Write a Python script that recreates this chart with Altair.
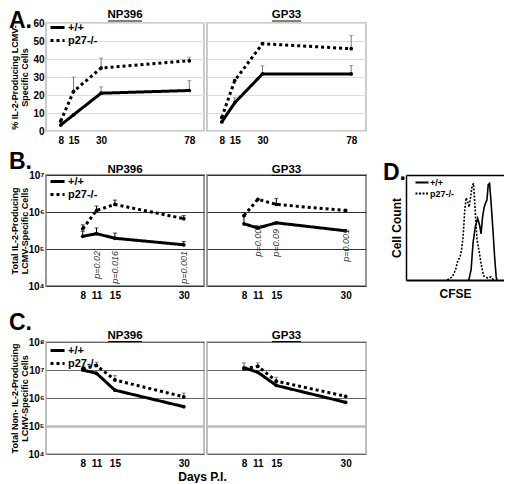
import altair as alt
import pandas as pd

FONT = "Liberation Sans"
WT, KO = "+/+", "p27-/-"

# ---------------- Panel A : % IL-2 producing ----------------
days_A = [8, 15, 30, 78]
A_np_wt = [3.3, 9.0, 21.0, 22.5]
A_np_ko = [5.5, 22.0, 35.0, 39.0]
A_np_wt_hi = [None, None, 24.5, 28.0]
A_np_ko_hi = [None, 30.0, 40.5, 41.0]
A_gp_wt = [5.0, 15.7, 31.7, 31.7]
A_gp_ko = [7.5, 28.0, 48.5, 45.7]
A_gp_wt_hi = [None, 18.5, 36.2, 36.4]
A_gp_ko_hi = [None, None, None, 53.0]
A_yticks = [0, 10, 20, 30, 40, 50, 60]

# ---------------- Panel B : total IL-2 producing ----------------
days_BC = [8, 11, 15, 30]
B_np_wt = [2.2e5, 2.6e5, 1.95e5, 1.3e5]
B_np_ko = [3.5e5, 1.1e6, 1.6e6, 6.6e5]
B_np_wt_hi = [3.0e5, 3.7e5, 2.7e5, 1.6e5]
B_np_ko_hi = [4.5e5, 1.45e6, 2.1e6, 8.0e5]
B_gp_wt = [4.8e5, 3.7e5, 5.1e5, 3.1e5]
B_gp_ko = [8.0e5, 2.2e6, 1.6e6, 1.1e6]
B_gp_wt_hi = [7.5e5, None, None, None]
B_gp_ko_hi = [None, None, 2.3e6, None]
B_np_p_text = ["p=0.02", "p=0.016", "p=0.001"]
B_np_p_day = [11, 15, 30]
B_np_p_y = [8.8e4, 8.8e4, 8.8e4]
B_gp_p_text = ["p=0.001", "p=0.09", "p=0.001"]
B_gp_p_day = [11, 15, 30]
B_gp_p_y = [4.8e5, 3.5e5, 3.5e5]
B_yticks = [1e4, 1e5, 1e6, 1e7]

# ---------------- Panel C : total non-IL-2 producing ----------------
C_np_wt = [1.0e7, 7.6e6, 1.9e6, 4.9e5]
C_np_ko = [1.1e7, 1.45e7, 4.4e6, 1.1e6]
C_np_wt_hi = [None, None, None, None]
C_np_ko_hi = [1.3e7, 1.9e7, 6.3e6, 1.5e6]
C_gp_wt = [1.2e7, 8.3e6, 2.8e6, 7.0e5]
C_gp_ko = [1.1e7, 1.35e7, 4.0e6, 1.15e6]
C_gp_wt_hi = [1.8e7, None, None, None]
C_gp_ko_hi = [None, 1.8e7, 5.5e6, None]
C_yticks = [1e4, 1e5, 1e6, 1e7, 1e8]

# ---------------- Panel D : CFSE histogram ----------------
D_wt_cfse = [59.4, 61.6, 63.4, 65.6, 67.8, 69.7, 71.0, 72.5, 74.0, 75.3, 76.6, 77.8, 79.0, 80.3, 82.2, 83.8, 85.3, 86.0]
D_wt_count = [0, 10, 36, 52, 60, 53, 45, 62, 71, 75, 78, 93, 94, 78, 49, 23, 3, 0]
D_ko_cfse = [39.0, 43.8, 46.9, 49.0, 51.0, 52.5, 54.0, 55.6, 56.9, 58.4, 59.7, 61.0, 62.5, 63.8, 64.7, 66.0, 67.2, 69.0, 71.0, 73.4, 77.2, 80.3, 82.8]
D_ko_count = [0, 3, 10, 19, 22, 29, 42, 68, 80, 76, 71, 80, 91, 94, 81, 58, 39, 29, 16, 4, 2, 3, 0]

SUP = "['⁰','¹','²','³','⁴','⁵','⁶','⁷','⁸','⁹']"
LOG_LABEL = "'10' + " + SUP + "[round(log(datum.value)/LN10)]"


def long_df(days, wt, ko):
    return pd.DataFrame({"day": list(days) * 2,
                         "value": list(wt) + list(ko),
                         "g": [WT] * len(days) + [KO] * len(days)})


def err_df(days, wt, wt_hi, ko, ko_hi):
    rows = []
    for d, v, h in list(zip(days, wt, wt_hi)) + list(zip(days, ko, ko_hi)):
        if h is not None:
            rows.append({"day": d, "value": v, "hi": h})
    return pd.DataFrame(rows, columns=["day", "value", "hi"])


def legend(ly):
    return alt.Legend(orient="none", legendX=-1, legendY=ly, title=None,
                      symbolType="M0,0H6", symbolSize=22, symbolStrokeWidth=3,
                      symbolStrokeColor="black", labelFontSize=11,
                      labelFontWeight="bold", rowPadding=0, padding=0,
                      labelOffset=12, labelColor="black")


def text_layer(txt, x, y, size, **kw):
    return alt.Chart(pd.DataFrame({"t": [txt]})).mark_text(
        fontSize=size, fontWeight="bold", color="black", **kw
    ).encode(x=alt.value(x), y=alt.value(y), text="t:N")


def panel(days, wt, ko, wt_hi, ko_hi, *, xdom, xvals, ydom, yvals, ylog,
          width, height, title, title_y, underline_y=None, ytitle=None, leg_y=None,
          letter=None, letter_y=0, grid_color="#dddddd", grid_width=1,
          frame_color="#bbbbbb", frame_width=1.5, err_color="#777777",
          xtitle=None, ptext=None):
    sx = alt.Scale(domain=xdom, nice=False, zero=False)
    if ylog:
        sy = alt.Scale(type="log", domain=ydom, nice=False)
    else:
        sy = alt.Scale(domain=ydom, nice=False, zero=False)
    ykw = dict(values=yvals, grid=True, gridColor=grid_color, gridWidth=grid_width,
               domain=False, ticks=False, labels=ytitle is not None,
               labelFontSize=10, labelFontWeight="bold", labelPadding=2,
               labelOverlap=False, labelBound=False, labelLineHeight=10,
               labelColor="black", minExtent=15, maxExtent=15,
               title=ytitle, titlePadding=2, titleFontSize=9, titleFontWeight="bold",
               titleLineHeight=10, titleColor="black")
    if ylog:
        ykw["labelExpr"] = LOG_LABEL
    yaxis = alt.Axis(**ykw)
    xkw = dict(values=xvals, grid=False, domain=False, ticks=False,
               labelFontSize=10, labelFontWeight="bold", labelPadding=4,
               labelOverlap=False, labelFlush=False, labelColor="black",
               title=xtitle)
    if xtitle is not None:
        xkw.update(titleX=156, titleY=17, titleBaseline="top", titleAlign="center",
                   titleFontSize=12, titleFontWeight="bold", titleColor="black")
    xaxis = alt.Axis(**xkw)
    X = alt.X("day:Q", scale=sx, axis=xaxis)

    ldf = long_df(days, wt, ko)
    edf = err_df(days, wt, wt_hi, ko, ko_hi)
    dash_kw = dict(scale=alt.Scale(domain=[WT, KO], range=[[1, 0], [3, 3]]))
    dash_kw["legend"] = legend(leg_y) if leg_y is not None else None

    layers = []
    layers.append(alt.Chart(edf).mark_rule(color=err_color, strokeWidth=1).encode(
        x=X, y=alt.Y("value:Q", scale=sy, axis=yaxis), y2="hi:Q"))
    layers.append(alt.Chart(edf).mark_tick(color=err_color, orient="horizontal",
                                           size=4, thickness=1).encode(
        x=X, y=alt.Y("hi:Q", scale=sy, axis=yaxis)))
    layers.append(alt.Chart(ldf).mark_line(color="black", strokeWidth=3,
                                           strokeCap="butt").encode(
        x=X, y=alt.Y("value:Q", scale=sy, axis=yaxis),
        strokeDash=alt.StrokeDash("g:N", **dash_kw)))
    layers.append(alt.Chart(ldf).mark_circle(color="black", size=14, opacity=1).encode(
        x=X, y=alt.Y("value:Q", scale=sy, axis=yaxis)))
    if ptext is not None:
        pdf = pd.DataFrame({"day": ptext[0], "y": ptext[1], "t": ptext[2]})
        layers.append(alt.Chart(pdf).mark_text(angle=270, align="right",
                                               baseline="middle", fontStyle="italic",
                                               fontSize=9, color="#333333").encode(
            x=X, y=alt.Y("y:Q", scale=sy, axis=yaxis), text="t:N"))
    # panel title (centred over the plot) and optional underline
    layers.append(text_layer(title, width / 2, title_y, 11.5, align="center",
                             baseline="middle"))
    if underline_y is not None:
        half = 17 if title == "NP396" else 14.5
        layers.append(alt.Chart(pd.DataFrame({"t": [title]})).mark_rule(
            color="black", strokeWidth=1).encode(
            x=alt.value(width / 2 - half), x2=alt.value(width / 2 + half),
            y=alt.value(underline_y)))
    if letter is not None:
        layers.append(text_layer(letter, -37, letter_y, 23, align="left",
                                 baseline="top"))
    return alt.layer(*layers).properties(
        width=width, height=height,
        view=alt.ViewBackground(stroke=frame_color, strokeWidth=frame_width))


def spacer(w, h):
    return alt.Chart(pd.DataFrame({"a": [0]})).mark_point(opacity=0).encode(
        x=alt.X("a:Q", axis=None), y=alt.Y("a:Q", axis=None)
    ).properties(width=w, height=h, view=alt.ViewBackground(strokeOpacity=0))


W1, W2 = 158, 159
A_common = dict(xdom=[0, 86], xvals=days_A, ydom=[0, 60], yvals=A_yticks, ylog=False,
                height=108, title_y=-8, underline_y=-2)
A_np = panel(days_A, A_np_wt, A_np_ko, A_np_wt_hi, A_np_ko_hi, width=W1, title="NP396",
             ytitle=["% IL-2-Producing LCMV-", "Specific Cells"], leg_y=-1,
             letter="A.", letter_y=-13, **A_common)
A_gp = panel(days_A, A_gp_wt, A_gp_ko, A_gp_wt_hi, A_gp_ko_hi, width=W2, title="GP33",
             **A_common)

B_common = dict(xdom=[0, 34.4], xvals=days_BC, ydom=[1e4, 1e7], yvals=B_yticks, ylog=True,
                height=111, title_y=-5, grid_color="#333333", grid_width=1,
                frame_color="#999999", frame_width=2, err_color="black")
B_np = panel(days_BC, B_np_wt, B_np_ko, B_np_wt_hi, B_np_ko_hi, width=W1, title="NP396",
             ytitle=["Total  IL-2-Producing", "LCMV-Specific Cells"], leg_y=1,
             letter="B.", letter_y=-24,
             ptext=(B_np_p_day, B_np_p_y, B_np_p_text), **B_common)
B_gp = panel(days_BC, B_gp_wt, B_gp_ko, B_gp_wt_hi, B_gp_ko_hi, width=W2, title="GP33",
             underline_y=0.5, ptext=(B_gp_p_day, B_gp_p_y, B_gp_p_text), **B_common)

C_grid_color = {"condition": {"test": "datum.value === 100000", "value": "#bbbbbb"},
                "value": "#666666"}
C_grid_width = {"condition": {"test": "datum.value === 100000", "value": 2.5},
                "value": 1}
C_common = dict(xdom=[0, 34.4], xvals=days_BC, ydom=[1e4, 1e8], yvals=C_yticks, ylog=True,
                height=112, title_y=-6, underline_y=-0.5, grid_color=C_grid_color,
                grid_width=C_grid_width, frame_color="#aaaaaa", frame_width=1.5,
                err_color="#555555")
C_np = panel(days_BC, C_np_wt, C_np_ko, C_np_wt_hi, C_np_ko_hi, width=W1, title="NP396",
             ytitle=["Total  Non- IL-2-Producing", "LCMV-Specific Cells"], leg_y=3,
             letter="C.", letter_y=-30, xtitle="Days P.I.", **C_common)
C_gp = panel(days_BC, C_gp_wt, C_gp_ko, C_gp_wt_hi, C_gp_ko_hi, width=W2, title="GP33",
             **C_common)

# ---------------- Panel D ----------------
DW, DH = 98, 105
d_df = pd.DataFrame({"cfse": D_wt_cfse + D_ko_cfse,
                     "count": D_wt_count + D_ko_count,
                     "g": [WT] * len(D_wt_cfse) + [KO] * len(D_ko_cfse)})
d_sx = alt.Scale(domain=[0, 92.7], nice=False, zero=False)
d_sy = alt.Scale(domain=[0, 102.2], nice=False)
D_line = alt.Chart(d_df).mark_line(color="black", strokeWidth=1.6).encode(
    x=alt.X("cfse:Q", scale=d_sx,
            axis=alt.Axis(labels=False, ticks=False, domain=True, domainColor="black",
                          domainWidth=2, grid=False, title="CFSE", titleFontSize=12,
                          titleFontWeight="bold", titlePadding=8, titleColor="black")),
    y=alt.Y("count:Q", scale=d_sy,
            axis=alt.Axis(labels=False, ticks=False, domain=True, domainColor="black",
                          domainWidth=1.5, grid=False, title="Cell Count",
                          titleFontSize=12, titleFontWeight="bold", titlePadding=3,
                          titleColor="black")),
    strokeDash=alt.StrokeDash("g:N", scale=alt.Scale(domain=[WT, KO], range=[[1, 0], [2, 1.5]]),
                              legend=alt.Legend(orient="none", legendX=5, legendY=3, title=None,
                                                symbolType="M0,0H6", symbolSize=19,
                                                symbolStrokeWidth=2, symbolStrokeColor="black",
                                                labelFontSize=9, labelFontWeight="bold",
                                                rowPadding=1, padding=0, labelOffset=10,
                                                labelColor="black")),
    order="cfse:Q")
D_top = alt.Chart(d_df).mark_point(opacity=0).encode(
    x=alt.X("cfse:Q", scale=d_sx,
            axis=alt.Axis(orient="top", labels=False, ticks=False, domain=True,
                          domainColor="black", domainWidth=1.5, grid=False, title=None)),
    y=alt.Y("count:Q", scale=d_sy))
D_letter = text_layer("D.", -23, -13, 23, align="left", baseline="top")
D = alt.layer(D_line, D_top, D_letter).resolve_axis(x="independent").properties(
    width=DW, height=DH, view=alt.ViewBackground(strokeOpacity=0))

chart = alt.concat(
    A_np, A_gp, spacer(34, 108), spacer(DW, 108),
    B_np, B_gp, spacer(34, 123), D,
    C_np, C_gp, spacer(34, 112), spacer(DW, 112),
    columns=4, spacing={"row": 44, "column": 3}, bounds="flush",
).resolve_scale(strokeDash="independent").resolve_legend(strokeDash="independent").properties(
    padding=0).configure(font=FONT).configure_view(fill="white").configure_axis(
    labelOverlap=False)

chart.save("out.html", embed_options={"renderer": "svg", "actions": False})
